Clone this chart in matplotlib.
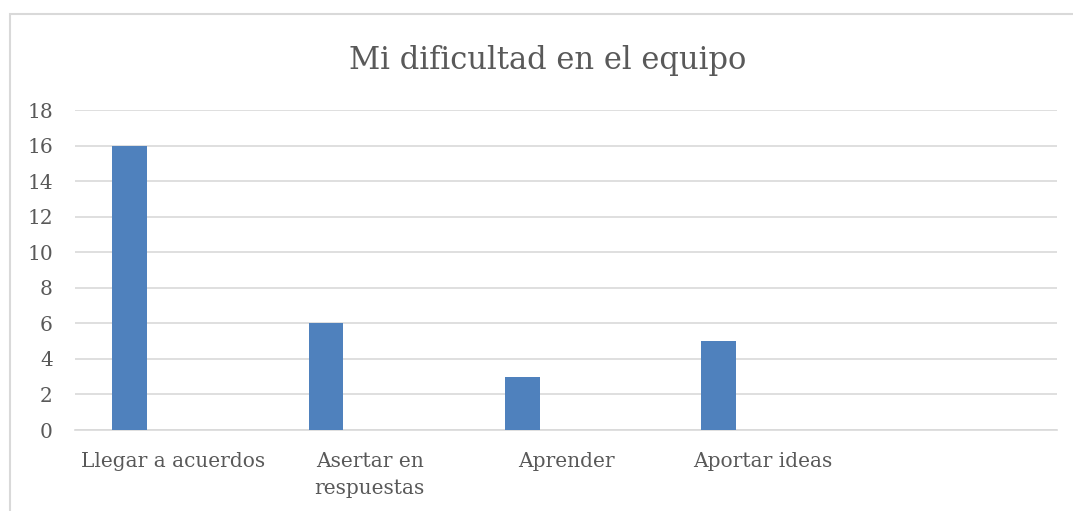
import matplotlib.pyplot as plt
import numpy as np
from matplotlib.patches import Rectangle

categories = ["Llegar a acuerdos", "Asertar en\nrespuestas", "Aprender", "Aportar ideas", ""]
values = [16, 6, 3, 5, 0]
yticks = [0, 2, 4, 6, 8, 10, 12, 14, 16, 18]

plt.rcParams['font.family'] = ['DejaVu Serif']

fig = plt.figure(figsize=(10.73, 5.11), dpi=100)
ax = fig.add_axes([75 / 1073, 1 - 430 / 511, 982 / 1073, 320 / 511])

# chart border (left and top only visible)
fig.patches.append(Rectangle((9.5 / 1073, -0.1), 1.2, 1 - 14 / 511 + 0.1, transform=fig.transFigure,
                             fill=False, edgecolor='#d9d9d9', linewidth=1.5))

x = np.arange(len(categories))
ax.bar(x[:4] - 0.222, values[:4], width=0.178, color='#4f81bd', zorder=3)

ax.set_xlim(-0.5, 4.5)
ax.set_ylim(0, 18)
ax.set_yticks(yticks)
ax.set_yticklabels([str(t) for t in yticks], fontsize=14.5, color='#595959')
ax.set_xticks(x)
ax.set_xticklabels(categories, fontsize=14.5, color='#595959', linespacing=1.55, va='top')
ax.tick_params(axis='both', length=0)
ax.tick_params(axis='x', pad=16)
ax.tick_params(axis='y', pad=16)
ax.grid(axis='y', color='#d9d9d9', linewidth=1.2, zorder=0)
for s in ['top', 'right', 'left']:
    ax.spines[s].set_visible(False)
ax.spines['bottom'].set_color('#d9d9d9')
ax.spines['bottom'].set_linewidth(1.2)

fig.text(548 / 1073, 1 - 60 / 511, "Mi dificultad en el equipo", fontsize=22, color='#595959',
         ha='center', va='center')

fig.savefig('out.png', dpi=100)
